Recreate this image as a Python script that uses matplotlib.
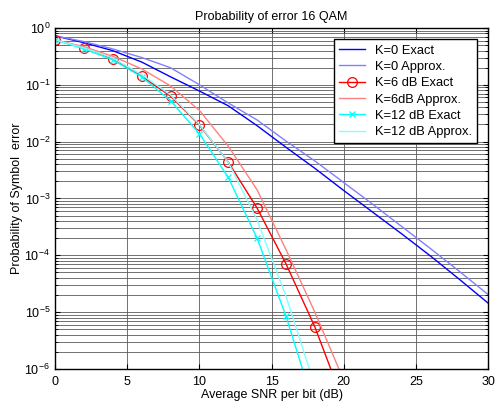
import matplotlib.pyplot as plt
import numpy as np

plt.rcParams['font.family'] = 'Liberation Sans'
plt.rcParams['mathtext.default'] = 'regular'

# SNR points (dB)
snr = [0, 2, 4, 6, 8, 10, 12, 14, 16, 18, 20, 22, 24, 26, 28, 30]
snr_k6 = [0, 2, 4, 6, 8, 10, 12, 14, 16, 18, 20]
snr_k12 = [0, 2, 4, 6, 8, 10, 12, 14, 16, 18]

k0_exact_dec = [0.14, 0.26, 0.40, 0.60, 0.86, 1.11, 1.37, 1.72, 2.10, 2.47, 2.86, 3.24, 3.62, 4.01, 4.42, 4.84]
k0_approx_dec = [0.14, 0.24, 0.37, 0.52, 0.70, 1.00, 1.32, 1.62, 1.99, 2.34, 2.72, 3.10, 3.49, 3.88, 4.28, 4.69]
k6_exact_dec = [0.21, 0.35, 0.55, 0.85, 1.20, 1.71, 2.36, 3.17, 4.15, 5.26, 6.6]
k6_approx_dec = [0.21, 0.33, 0.50, 0.72, 1.02, 1.45, 2.08, 2.85, 3.90, 5.00, 6.2]
k12_exact_dec = [0.21, 0.37, 0.56, 0.86, 1.28, 1.86, 2.63, 3.70, 5.07, 6.7]
k12_approx_dec = [0.21, 0.35, 0.53, 0.82, 1.18, 1.70, 2.36, 3.38, 4.72, 6.3]

def pe(dec):
    return 10.0 ** (-np.array(dec))

fig = plt.figure(figsize=(4.96, 4.07), dpi=100)
ax = fig.add_axes([0.111, 0.0934, 0.873, 0.838])

ax.semilogy(snr, pe(k0_exact_dec), color='#0000ff', lw=1.0, label='K=0 Exact')
ax.semilogy(snr, pe(k0_approx_dec), color='#8080ff', lw=1.0, label='K=0 Approx.')
ax.semilogy(snr_k6, pe(k6_exact_dec), color='#ff0000', lw=1.0, marker='o', ms=7,
            mfc='none', mew=0.9, label='K=6 dB Exact')
ax.semilogy(snr_k6, pe(k6_approx_dec), color='#ff8080', lw=1.0, label='K=6dB Approx.')
ax.semilogy(snr_k12, pe(k12_exact_dec), color='#00ffff', lw=1.0, marker='x', ms=4,
            mew=0.9, label='K=12 dB Exact')
ax.semilogy(snr_k12, pe(k12_approx_dec), color='#80ffff', lw=1.0, label='K=12 dB Approx.')

ax.set_xlim(0, 30)
ax.set_ylim(1e-6, 1)
ax.set_xticks([0, 5, 10, 15, 20, 25, 30])
ax.set_yticks([1e-6, 1e-5, 1e-4, 1e-3, 1e-2, 1e-1, 1])

ax.grid(True, which='major', axis='x', color='0.35', lw=0.6)
ax.grid(True, which='both', axis='y', color='0.35', lw=0.6)
ax.set_axisbelow(True)
ax.tick_params(which='both', direction='in', top=True, right=True, labelsize=9)
ax.tick_params(axis='x', pad=5)
for s in ax.spines.values():
    s.set_linewidth(1.0)

ax.set_title('Probability of error 16 QAM', fontsize=9, pad=6)
ax.set_xlabel('Average SNR per bit (dB)', fontsize=9, labelpad=1)
ax.set_ylabel('Probability of Symbol  error', fontsize=9, labelpad=1)

leg = ax.legend(loc='upper right', fontsize=9.3, labelspacing=0.33, handlelength=2.0,
                borderpad=0.4, fancybox=False, framealpha=1, edgecolor='black',
                bbox_to_anchor=(0.99, 0.985))
leg.get_frame().set_linewidth(1.0)

plt.savefig('out.png', dpi=100)
